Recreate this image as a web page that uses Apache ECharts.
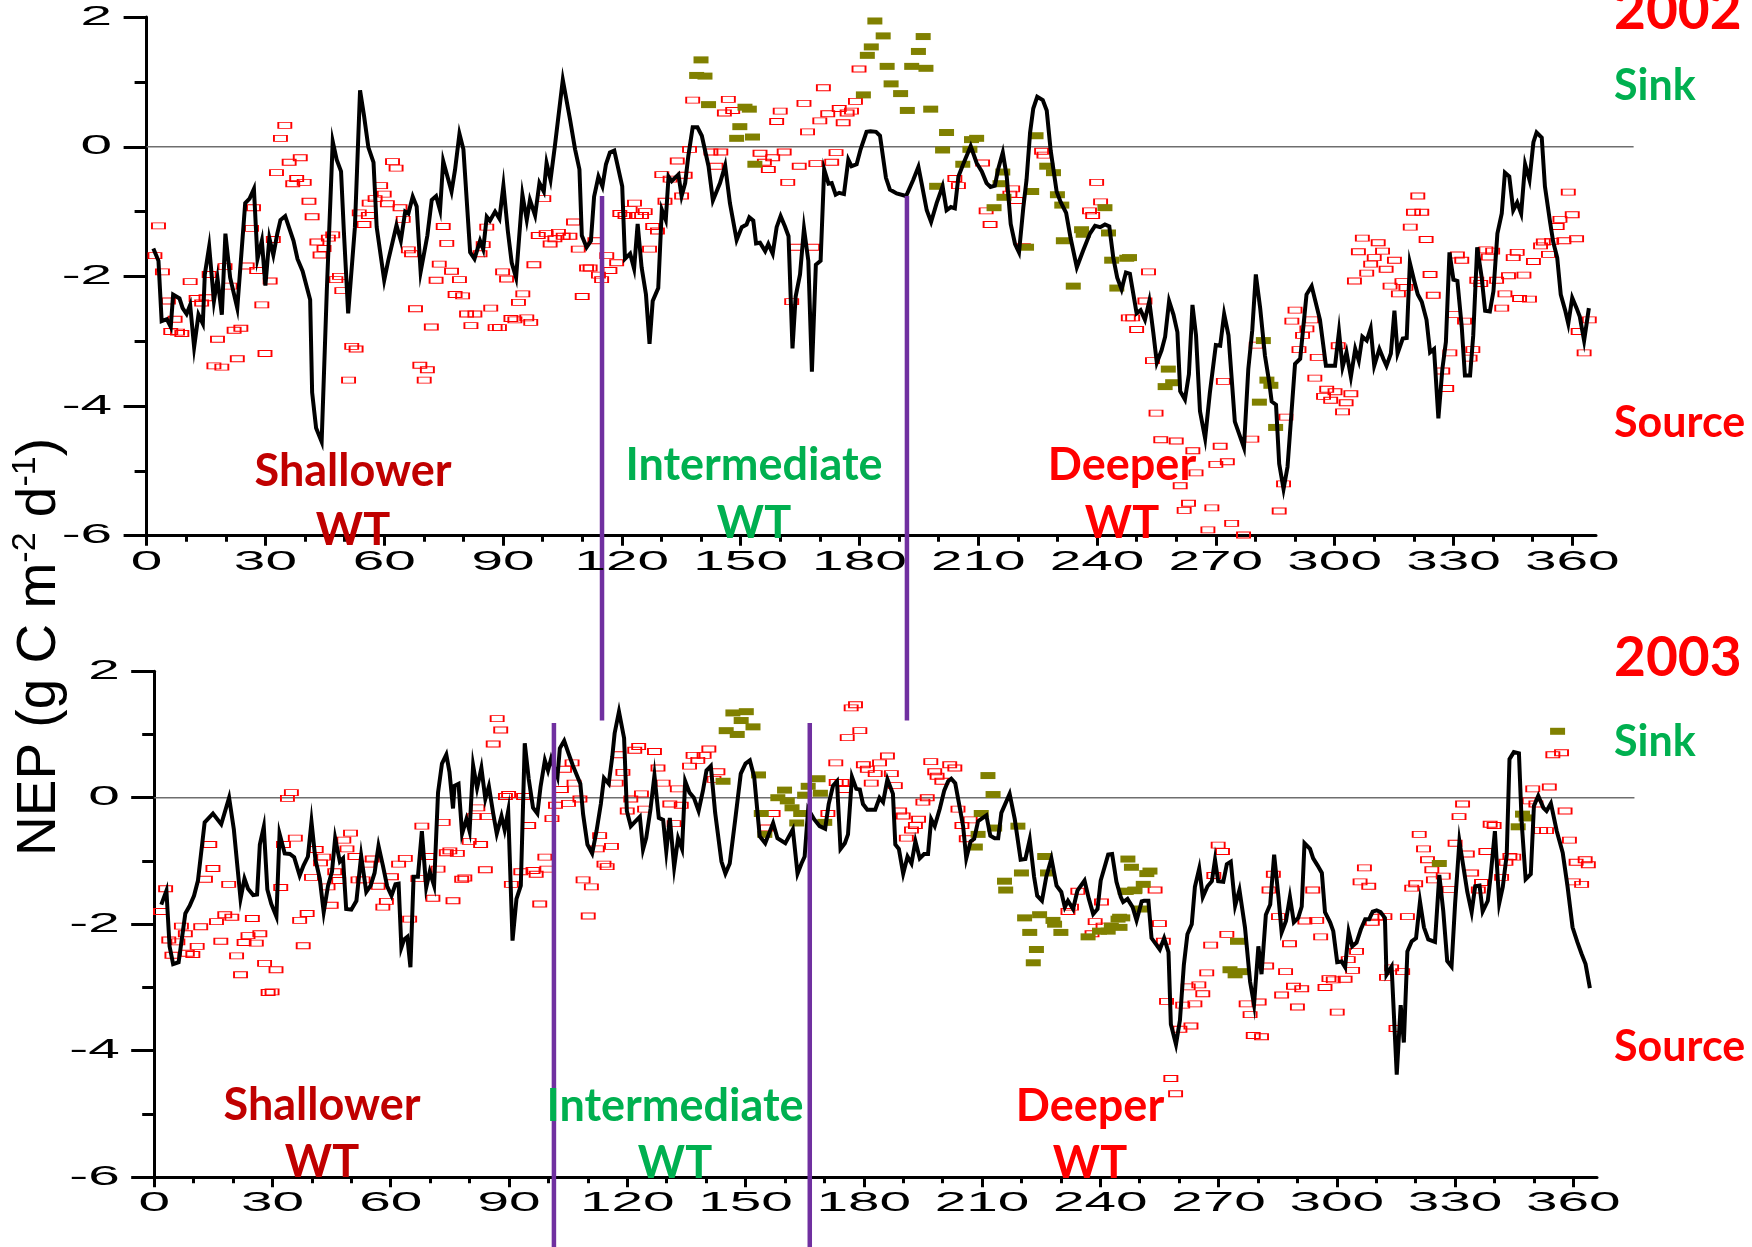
<!DOCTYPE html>
<html>
<head>
<meta charset="utf-8">
<title>NEP 2002 / 2003</title>
<script src="https://cdn.jsdelivr.net/npm/echarts@6/dist/echarts.min.js"></script>
<style>
  html, body { margin: 0; padding: 0; background: #ffffff; }
  #chart { width: 1752px; height: 1247px; }
</style>
</head>
<body>
<div id="chart"></div>
<script>
// ---- axis ticks ----
const dayTicks = [0, 30, 60, 90, 120, 150, 180, 210, 240, 270, 300, 330, 360];
const dayMinorTicks = [10, 20, 40, 50, 70, 80, 100, 110, 130, 140, 160, 170, 190, 200, 220, 230,
  250, 260, 280, 290, 310, 320, 340, 350];
const nepTicks = [2, 0, -2, -4, -6];

// ---- water-table period boundaries (day of year) ----
const wtBounds2002 = [115, 192];
const wtBounds2003 = [101.4, 166.3];

// ---- 2002: daily NEP line [day, g C m-2 d-1] ----
const lineNEP2002 = [
  [1.7,-1.57],[3.0,-1.76],[3.8,-2.69],[5.1,-2.66],[6.1,-2.78],[6.7,-2.28],[8.3,-2.34],[9.1,-2.49],[10.1,-2.58],[11.0,-2.44],
  [12.0,-3.09],[13.1,-2.59],[14.2,-2.73],[14.7,-1.97],[15.8,-1.54],[17.0,-2.38],[17.9,-2.03],[19.0,-2.59],[19.9,-1.34],[21.1,-2.02],
  [22.9,-2.49],[24.9,-0.87],[26.0,-0.80],[27.1,-0.65],[28.0,-1.73],[29.1,-1.45],[30.0,-2.14],[31.0,-1.41],[32.0,-1.67],[33.0,-1.34],
  [33.8,-1.13],[35.0,-1.07],[37.1,-1.45],[38.1,-1.73],[39.4,-1.92],[41.3,-2.36],[41.8,-3.79],[42.8,-4.34],[44.2,-4.55],[45.5,-2.23],
  [47.0,0.08],[48.0,-0.20],[49.1,-0.38],[49.8,-1.29],[50.9,-2.57],[52.6,-1.24],[53.9,0.87],[54.9,0.48],[56.0,-0.01],[57.3,-0.24],
  [58.1,-1.24],[60.0,-2.06],[61.0,-1.76],[63.1,-1.21],[64.2,-1.45],[65.3,-1.00],[66.1,-1.03],[67.2,-0.77],[68.2,-0.92],[69.2,-1.93],
  [70.9,-1.37],[72.0,-0.82],[73.1,-0.76],[74.1,-0.98],[74.9,-0.22],[77.0,-0.69],[77.9,-0.35],[79.0,0.20],[80.0,-0.04],[81.7,-1.63],
  [82.8,-1.73],[84.2,-1.45],[85.0,-1.58],[85.9,-1.08],[86.7,-1.14],[88.0,-1.00],[89.1,-1.11],[90.1,-0.60],[91.2,-1.29],[92.2,-1.79],
  [93.3,-2.02],[94.9,-0.74],[96.0,-1.13],[96.8,-0.82],[98.1,-1.06],[99.2,-0.56],[100.3,-0.69],[101.0,-0.25],[102.0,-0.51],[103.1,0.01],
  [105.1,1.03],[106.9,0.43],[108.2,-0.04],[109.3,-0.35],[109.9,-1.37],[111.1,-1.55],[112.2,-1.45],[113.0,-0.77],[114.1,-0.46],[115.1,-0.61],
  [116.0,-0.27],[117.0,-0.09],[118.1,-0.06],[120.1,-0.61],[120.8,-1.73],[122.1,-1.65],[123.1,-1.88],[124.0,-1.19],[125.0,-1.86],[126.1,-2.28],
  [127.0,-3.04],[127.8,-2.38],[129.2,-2.18],[130.1,-0.97],[131.1,-1.13],[131.8,-0.46],[132.6,-0.53],[133.4,-0.48],[134.3,-0.43],[135.1,-0.76],
  [136.0,-0.56],[136.8,-0.14],[137.9,0.30],[139.1,0.30],[140.2,0.17],[141.9,-0.30],[143.0,-0.83],[144.8,-0.56],[146.1,-0.29],[147.3,-0.87],
  [149.0,-1.44],[150.3,-1.24],[151.5,-1.20],[152.2,-1.09],[153.2,-1.14],[153.9,-1.49],[154.9,-1.48],[156.2,-1.61],[157.0,-1.50],[158.1,-1.65],
  [159.1,-1.24],[160.1,-1.07],[161.2,-1.23],[162.1,-1.38],[163.1,-3.11],[163.9,-2.31],[165.0,-1.97],[166.0,-1.26],[167.1,-1.76],[168.0,-3.47],
  [169.0,-1.82],[170.2,-1.76],[171.1,-0.35],[172.2,-0.57],[173.0,-0.56],[174.0,-0.74],[174.9,-0.71],[176.1,-0.73],[177.2,-0.20],[178.0,-0.30],
  [179.3,-0.27],[180.3,-0.04],[181.8,0.23],[182.8,0.24],[184.2,0.23],[185.2,0.17],[186.7,-0.48],[187.7,-0.66],[189.4,-0.72],[191.8,-0.76],
  [193.6,-0.51],[194.9,-0.31],[195.7,-0.56],[197.0,-0.98],[198.1,-1.16],[199.5,-0.87],[201.0,-0.61],[202.0,-0.98],[203.1,-0.93],[204.1,-0.95],
  [205.0,-0.46],[206.2,-0.27],[208.1,0.01],[209.6,-0.25],[210.9,-0.38],[212.1,-0.56],[213.1,-0.62],[214.2,-0.60],[215.1,-0.33],[216.2,-0.09],
  [217.2,-0.46],[218.2,-1.19],[219.3,-1.50],[220.3,-1.63],[221.4,-0.93],[222.2,-0.51],[223.1,0.22],[223.9,0.59],[224.9,0.77],[226.3,0.72],
  [227.3,0.56],[228.3,-0.06],[229.8,-0.69],[230.8,-0.85],[232.2,-1.02],[233.3,-1.40],[234.9,-1.86],[236.5,-1.60],[238.2,-1.34],[239.5,-1.22],
  [240.8,-1.24],[242.0,-1.20],[243.1,-1.23],[244.1,-1.71],[245.1,-2.02],[246.2,-2.20],[247.3,-1.94],[248.3,-1.96],[250.0,-2.57],[251.0,-2.52],
  [252.1,-2.67],[253.2,-2.38],[254.2,-2.86],[255.1,-3.33],[256.3,-3.14],[257.2,-2.93],[258.2,-2.38],[259.3,-2.59],[260.3,-2.86],[261.0,-3.77],
  [262.2,-3.90],[263.2,-3.51],[264.1,-2.44],[265.0,-2.91],[266.0,-4.08],[267.3,-4.50],[268.5,-3.79],[270.0,-3.06],[271.1,-3.07],[272.1,-2.58],
  [273.2,-2.91],[274.8,-4.24],[277.1,-4.64],[278.2,-3.43],[279.2,-2.83],[280.1,-1.97],[281.2,-2.49],[282.4,-3.22],[283.5,-3.64],[284.1,-3.93],
  [285.2,-3.98],[286.0,-4.89],[287.1,-5.28],[288.1,-4.94],[290.0,-3.35],[291.3,-3.27],[292.9,-2.28],[294.2,-2.15],[296.3,-2.67],[297.8,-3.38],
  [300.1,-3.38],[301.1,-2.85],[302.0,-3.40],[303.0,-3.17],[304.1,-3.55],[305.2,-3.12],[306.1,-3.30],[307.0,-2.93],[308.1,-2.99],[309.1,-2.80],
  [310.0,-3.38],[311.3,-3.12],[312.3,-3.27],[313.1,-3.38],[314.2,-3.19],[315.1,-2.53],[315.9,-3.19],[317.2,-2.96],[318.2,-2.95],[319.0,-1.79],
  [320.1,-2.07],[321.0,-2.28],[322.0,-2.39],[323.2,-2.67],[324.1,-3.17],[325.1,-3.12],[326.2,-4.19],[327.2,-3.43],[328.1,-3.01],[329.0,-1.63],
  [330.0,-2.05],[331.0,-2.07],[332.1,-2.78],[332.9,-3.53],[334.2,-3.53],[335.0,-2.91],[336.0,-1.55],[337.1,-2.00],[338.0,-2.53],[339.2,-2.54],
  [340.1,-2.23],[341.1,-1.34],[342.2,-1.03],[343.0,-0.40],[344.1,-0.46],[345.1,-0.98],[346.1,-0.86],[347.1,-1.03],[348.1,-0.27],[349.2,-0.51],
  [350.2,0.07],[351.0,0.22],[352.3,0.14],[353.1,-0.61],[354.4,-1.16],[355.2,-1.47],[356.2,-1.71],[357.1,-2.28],[358.2,-2.52],[359.0,-2.73],
  [360.0,-2.33],[361.1,-2.49],[361.9,-2.62],[363.0,-2.99],[364.2,-2.49]
];

// ---- 2002: open red markers ----
const openMarks2002 = [
  [3.0,-1.22],[2.1,-1.68],[4.0,-1.93],[5.5,-2.38],[6.1,-2.85],[7.2,-2.66],[7.8,-2.86],[8.9,-2.88],[11.0,-2.08],[12.5,-2.34],
  [13.9,-2.41],[15.0,-2.33],[15.8,-1.97],[17.9,-2.97],[17.0,-3.38],[19.0,-3.40],[19.8,-1.85],[21.1,-2.15],[22.1,-2.83],[23.8,-2.80],
  [22.9,-3.27],[25.4,-1.84],[26.5,-1.26],[27.0,-0.94],[27.8,-1.91],[29.1,-2.44],[29.9,-3.19],[31.2,-2.07],[32.0,-1.43],[32.8,-0.40],
  [33.8,0.13],[34.9,0.33],[36.0,-0.24],[37.9,-0.49],[36.9,-0.57],[38.8,-0.17],[39.8,-0.55],[41.0,-0.84],[41.8,-1.08],[43.0,-1.47],
  [43.8,-1.67],[44.8,-1.57],[45.9,-1.41],[47.0,-1.36],[47.8,-2.05],[48.7,-2.00],[49.3,-2.22],[51.8,-3.08],[52.9,-3.12],[51.0,-3.60],
  [53.7,-1.02],[54.9,-1.20],[56.0,-1.06],[56.2,-0.87],[57.7,-0.80],[59.1,-0.60],[60.0,-0.73],[60.8,-0.88],[62.1,-0.23],[63.0,-0.33],
  [64.0,-0.94],[64.8,-1.12],[66.1,-1.59],[66.9,-1.65],[67.9,-2.50],[69.0,-3.37],[70.9,-3.44],[70.1,-3.60],[71.9,-2.78],[73.1,-2.06],
  [73.9,-1.81],[74.9,-1.23],[75.8,-1.49],[77.0,-1.92],[77.9,-2.28],[79.0,-2.05],[79.8,-2.30],[80.8,-2.58],[81.9,-2.76],[82.9,-2.58],
  [84.2,-1.65],[85.9,-1.24],[85.0,-1.51],[86.9,-2.49],[88.0,-2.79],[89.1,-2.79],[89.9,-1.93],[90.9,-2.04],[92.0,-2.65],[93.0,-2.67],
  [93.9,-2.40],[95.0,-2.27],[96.0,-2.64],[97.0,-2.71],[97.8,-1.82],[98.9,-1.37],[100.3,-0.80],[100.9,-1.34],[101.9,-1.50],[103.1,-1.42],
  [104.0,-1.32],[105.2,-1.38],[106.9,-1.38],[107.8,-1.16],[109.0,-1.58],[110.0,-2.31],[111.1,-1.87],[112.0,-1.87],[113.2,-1.45],[114.1,-1.98],
  [114.9,-2.05],[116.2,-1.68],[117.0,-1.91],[118.7,-1.79],[119.5,-1.03],[120.8,-1.06],[122.1,-0.97],[123.2,-0.87],[123.7,-1.06],[125.9,-1.00],
  [125.0,-1.06],[127.8,-1.23],[129.0,-1.30],[127.0,-1.58],[130.9,-0.84],[130.1,-0.43],[132.2,-0.50],[134.0,-0.22],[135.1,-0.76],[136.0,-0.44],
  [137.1,-0.04],[137.9,0.72],[142.5,-0.08],[145.0,-0.08],[143.8,-0.30],[145.9,0.52],[146.9,0.73],[148.0,0.56],[154.9,-0.10],[156.0,-0.24],
  [157.0,-0.35],[158.1,-0.17],[159.1,0.39],[160.0,0.55],[161.0,-0.08],[161.9,-0.55],[164.0,-1.55],[162.9,-2.39],[164.8,-0.30],[166.0,0.67],
  [166.9,0.23],[168.2,-1.55],[169.0,-0.26],[170.0,0.40],[170.9,0.91],[172.0,0.51],[173.0,-0.24],[174.1,-0.09],[174.9,0.59],[175.9,0.37],
  [176.9,0.52],[178.0,0.55],[179.0,0.70],[179.9,1.20],[204.1,-0.49],[205.0,-0.60],[211.1,-0.25],[212.0,-0.99],[213.0,-1.20],[218.0,-0.73],
  [218.7,-0.65],[219.7,-0.83],[221.4,-1.54],[226.0,-0.07],[226.6,-0.13],[238.1,-0.99],[238.9,-1.06],[239.9,-0.55],[240.9,-0.85],[247.9,-2.64],
  [253.0,-1.93],[252.1,-2.38],[249.0,-2.64],[250.0,-2.82],[254.0,-3.30],[254.9,-4.11],[256.1,-4.52],[260.0,-4.54],[264.2,-4.69],[265.0,-5.03],
  [261.0,-5.23],[263.1,-5.50],[262.0,-5.61],[269.0,-5.57],[270.0,-4.90],[272.9,-4.86],[271.1,-4.62],[271.9,-3.62],[274.0,-5.81],[277.0,-5.99],
  [268.0,-5.91],[279.1,-4.51],[280.2,-3.06],[287.1,-5.20],[286.0,-5.62],[287.7,-4.17],[289.2,-2.69],[290.0,-2.52],[291.0,-3.13],[291.9,-2.91],
  [293.0,-2.81],[294.2,-2.67],[295.0,-3.57],[295.6,-3.25],[297.2,-3.85],[298.0,-3.74],[300.1,-3.78],[299.0,-3.91],[302.9,-3.95],[302.0,-4.09],
  [304.1,-3.81],[300.9,-3.07],[305.0,-2.07],[306.0,-1.62],[307.0,-1.41],[308.1,-1.95],[309.1,-1.81],[310.0,-1.71],[311.0,-1.48],[312.1,-1.61],
  [313.0,-1.89],[315.1,-1.75],[314.0,-2.15],[316.1,-2.27],[317.0,-2.08],[318.0,-2.17],[319.1,-1.24],[321.0,-0.76],[319.9,-1.01],[322.0,-1.01],
  [323.1,-1.43],[324.1,-1.97],[324.9,-2.29],[330.2,-2.59],[332.8,-2.69],[334.9,-3.13],[334.2,-3.26],[327.3,-3.46],[329.1,-3.18],[328.3,-3.73],
  [331.0,-1.67],[332.1,-1.75],[335.9,-2.06],[336.9,-2.11],[338.2,-1.59],[338.8,-1.70],[339.9,-1.61],[340.9,-2.06],[342.2,-2.49],[343.0,-2.27],
  [343.9,-1.99],[345.1,-1.71],[346.1,-1.63],[346.7,-2.34],[347.8,-1.98],[349.2,-2.35],[350.2,-1.77],[352.0,-1.53],[352.7,-1.47],[354.0,-1.66],
  [354.8,-1.46],[356.2,-1.23],[356.9,-1.12],[357.9,-1.45],[359.0,-0.70],[360.0,-1.05],[361.1,-1.42],[361.5,-2.85],[363.0,-3.18],[364.3,-2.67]
];

// ---- 2002: filled olive markers ----
const filledMarks2002 = [
  [140.0,1.34],[138.9,1.10],[141.0,1.09],[141.9,0.65],[151.1,0.61],[152.2,0.58],[149.8,0.31],[149.0,0.13],[153.0,0.15],[153.6,-0.27],
  [183.9,1.94],[186.0,1.71],[183.0,1.54],[182.0,1.41],[187.0,1.24],[181.0,0.80],[188.0,0.97],[190.4,0.82],[192.1,0.56],[193.2,1.24],
  [194.9,1.47],[196.1,1.70],[196.8,1.21],[198.0,0.58],[202.0,0.22],[201.0,-0.05],[199.5,-0.61],[209.6,0.13],[208.3,0.11],[207.9,-0.04],
  [206.1,-0.27],[216.2,-0.39],[215.5,-0.57],[216.5,-0.78],[214.0,-0.94],[223.5,-0.69],[222.2,-1.55],[224.6,0.17],[227.3,-0.30],[229.0,-0.40],
  [230.0,-0.74],[231.1,-0.90],[231.5,-1.45],[236.1,-1.28],[236.5,-1.35],[234.0,-2.15],[242.0,-0.94],[242.9,-1.33],[243.7,-1.75],[247.5,-1.72],
  [245.0,-2.18],[248.2,-1.71],[258.0,-3.43],[257.2,-3.70],[259.1,-3.64],[282.0,-2.99],[282.9,-3.60],[283.9,-3.68],[281.0,-3.94],[285.1,-4.33]
];

// ---- 2003: daily NEP line ----
const lineNEP2003 = [
  [1.8,-1.69],[3.1,-1.47],[3.9,-2.35],[4.8,-2.63],[6.2,-2.60],[7.9,-1.83],[9.0,-1.71],[10.1,-1.55],[11.1,-1.31],[12.8,-0.39],
  [14.9,-0.25],[17.0,-0.42],[19.0,0.00],[20.2,-0.50],[21.9,-1.60],[22.9,-1.28],[23.8,-1.44],[25.1,-1.54],[26.1,-1.53],[26.8,-0.74],
  [27.8,-0.46],[28.7,-1.45],[29.7,-1.68],[31.0,-1.88],[31.8,-0.57],[33.1,-0.88],[34.4,-0.89],[35.5,-0.94],[36.9,-1.23],[37.9,-1.07],
  [39.0,-0.93],[39.9,-0.38],[40.9,-0.98],[42.0,-1.28],[43.0,-1.81],[44.1,-1.39],[45.1,-1.17],[45.9,-0.64],[47.1,-1.01],[47.9,-0.96],
  [48.7,-1.76],[50.0,-1.77],[51.3,-1.63],[52.5,-0.92],[53.8,-1.49],[54.9,-1.39],[55.9,-1.19],[56.9,-0.76],[58.0,-1.07],[59.1,-1.40],
  [60.2,-1.55],[61.2,-1.37],[62.0,-1.36],[62.7,-2.37],[63.4,-2.24],[64.2,-2.20],[65.0,-2.68],[65.8,-1.25],[66.9,-1.25],[67.9,-0.53],
  [69.0,-1.42],[69.9,-1.17],[71.0,-1.39],[72.0,0.08],[73.0,0.54],[74.1,0.68],[74.9,0.41],[75.8,-0.17],[76.2,0.19],[77.2,0.22],
  [78.1,-0.57],[79.2,-0.34],[80.0,-0.53],[80.9,0.51],[81.9,0.15],[83.0,0.47],[84.0,-0.02],[84.9,0.18],[86.0,-0.25],[86.9,-0.57],
  [88.1,-0.29],[88.9,-0.51],[89.8,-0.21],[90.9,-2.26],[91.9,-1.60],[93.0,-1.39],[94.0,0.86],[95.0,0.30],[96.1,-0.16],[97.2,-0.25],
  [98.0,0.17],[99.1,0.59],[99.9,0.43],[100.7,0.62],[102.3,0.33],[102.9,0.78],[104.0,0.90],[105.1,0.70],[106.2,0.51],[108.1,0.22],
  [108.8,-0.26],[109.9,-0.74],[111.1,-0.88],[112.2,-0.53],[113.3,-0.10],[114.1,0.31],[115.3,0.22],[116.2,0.65],[116.8,1.02],[117.9,1.36],
  [119.2,0.94],[119.9,-0.21],[120.9,-0.45],[123.2,-0.30],[124.0,-0.82],[124.8,-0.64],[125.9,-0.18],[126.9,0.35],[128.0,-0.32],[129.1,-0.35],
  [129.9,-0.85],[130.8,-0.32],[131.9,-1.10],[132.9,-0.64],[133.9,-0.81],[134.7,0.26],[135.8,0.08],[136.9,0.00],[138.1,-0.21],[139.2,0.11],
  [140.1,0.43],[141.2,0.50],[142.3,-0.24],[143.9,-1.01],[144.9,-1.20],[146.0,-1.04],[147.4,-0.34],[148.8,0.38],[150.0,0.54],[151.1,0.59],
  [152.2,0.33],[153.6,-0.61],[155.0,-0.72],[156.0,-0.56],[157.0,-0.40],[158.1,-0.64],[160.1,-0.72],[162.0,-0.50],[163.2,-1.20],[164.2,-1.04],
  [165.0,-0.93],[165.9,-0.18],[167.4,-0.34],[168.8,-0.45],[170.2,-0.49],[171.1,-0.10],[172.2,0.19],[173.2,0.26],[174.1,-0.81],[175.2,-0.72],
  [176.0,-0.58],[177.0,0.33],[178.1,0.14],[179.0,0.13],[179.8,-0.10],[180.9,-0.19],[182.9,-0.19],[184.0,0.00],[184.9,-0.07],[186.0,0.29],
  [187.4,0.06],[188.0,-0.74],[188.9,-0.81],[190.0,-1.20],[191.1,-0.93],[192.1,-1.04],[193.1,-0.69],[194.2,-0.96],[195.3,-0.89],[196.3,-0.89],
  [197.1,-0.34],[198.0,-0.45],[199.3,-0.17],[200.4,0.11],[201.4,0.26],[202.2,0.30],[203.2,0.23],[204.3,-0.14],[205.2,-0.45],[206.0,-0.96],
  [207.1,-0.69],[208.0,-0.65],[209.0,-0.37],[211.1,-0.28],[212.1,-0.60],[213.2,-0.64],[214.1,-0.64],[214.9,-0.24],[217.0,0.06],[218.3,-0.34],
  [219.8,-0.98],[221.0,-0.97],[222.1,-0.66],[223.2,-1.25],[224.0,-1.55],[225.2,-1.63],[226.3,-1.25],[227.6,-0.96],[228.9,-1.39],[230.1,-1.49],
  [231.0,-1.73],[231.8,-1.63],[233.1,-1.76],[234.2,-1.47],[236.0,-1.31],[237.1,-1.60],[238.2,-1.84],[239.3,-1.76],[240.1,-1.31],[242.0,-0.90],
  [243.0,-0.89],[244.1,-1.33],[245.2,-1.57],[245.8,-1.65],[246.9,-1.60],[248.2,-1.73],[249.2,-1.94],[250.5,-1.64],[251.1,-1.63],[252.2,-1.63],
  [253.0,-2.22],[255.1,-2.40],[256.2,-2.22],[257.3,-2.44],[257.9,-3.58],[259.2,-3.90],[260.2,-3.52],[261.2,-2.64],[262.1,-2.16],[263.2,-2.00],
  [264.0,-1.41],[265.1,-1.12],[266.0,-1.57],[267.2,-1.40],[268.3,-1.32],[269.1,-0.98],[269.9,-1.32],[271.2,-1.33],[272.1,-1.05],[273.1,-1.01],
  [274.2,-1.71],[275.3,-1.46],[276.7,-2.05],[278.0,-2.91],[279.0,-3.27],[280.1,-2.35],[280.9,-2.79],[282.0,-1.85],[283.1,-1.69],[284.1,-0.90],
  [285.2,-1.57],[286.0,-2.13],[287.1,-1.95],[288.1,-1.57],[289.1,-1.97],[290.2,-1.90],[291.1,-1.72],[291.8,-0.72],[293.2,-0.81],[294.0,-0.96],
  [295.1,-1.07],[296.2,-1.19],[297.0,-1.81],[298.3,-1.97],[299.1,-2.11],[300.1,-2.60],[301.2,-2.59],[302.1,-2.68],[303.0,-2.12],[303.9,-2.35],
  [305.0,-2.29],[306.1,-2.08],[307.2,-1.92],[308.2,-1.92],[309.1,-1.80],[310.1,-1.78],[311.1,-1.81],[312.2,-1.90],[312.6,-2.80],[313.9,-2.67],
  [315.2,-4.38],[316.2,-3.28],[317.0,-3.87],[317.9,-2.43],[319.0,-2.27],[320.1,-2.22],[321.1,-1.64],[322.1,-2.05],[323.2,-2.24],[324.9,-2.28],
  [326.0,-1.22],[327.0,-1.79],[328.0,-2.58],[329.1,-2.67],[330.0,-1.68],[331.1,-0.69],[332.1,-1.09],[333.1,-1.49],[334.2,-1.81],[335.1,-1.40],
  [336.2,-1.39],[337.0,-1.80],[338.3,-1.63],[339.0,-1.25],[340.1,-0.53],[341.2,-1.67],[342.1,-1.41],[343.1,-0.90],[343.8,0.61],[344.9,0.72],
  [346.2,0.70],[346.9,-0.40],[347.9,-1.29],[349.2,-1.21],[350.0,-0.13],[351.1,0.03],[352.4,-0.16],[353.2,-0.21],[354.3,-0.09],[355.8,-0.53],
  [357.3,-0.87],[358.5,-1.39],[359.8,-2.05],[361.0,-2.28],[362.1,-2.47],[363.1,-2.63],[364.2,-3.01]
];

// ---- 2003: open red markers ----
const openMarks2003 = [
  [1.6,-1.80],[2.9,-1.44],[3.7,-2.25],[4.5,-2.49],[6.0,-2.28],[6.9,-2.03],[7.9,-2.15],[8.4,-2.46],[9.8,-2.48],[10.9,-2.35],
  [11.8,-2.04],[13.0,-1.29],[14.1,-0.74],[14.9,-1.12],[15.8,-1.96],[16.9,-2.27],[17.9,-1.85],[18.9,-1.37],[19.7,-1.89],[20.9,-2.50],
  [21.9,-2.80],[22.8,-2.29],[23.8,-2.18],[24.9,-1.91],[25.9,-2.30],[26.8,-2.15],[28.0,-2.62],[28.9,-3.08],[29.9,-3.07],[30.9,-2.72],
  [32.1,-1.42],[32.8,-0.74],[33.8,-0.01],[34.8,0.08],[35.8,-0.64],[36.9,-1.94],[37.8,-2.34],[38.8,-1.83],[39.9,-1.26],[41.1,-0.82],
  [42.2,-1.03],[43.0,-0.94],[44.1,-1.41],[44.9,-1.70],[45.8,-1.17],[46.8,-1.31],[48.1,-0.67],[48.9,-0.81],[49.8,-0.56],[50.9,-0.93],
  [51.7,-1.30],[53.0,-1.30],[54.2,-1.05],[55.3,-0.97],[56.8,-1.40],[58.0,-1.73],[58.9,-1.64],[60.2,-1.25],[62.0,-1.05],[63.7,-0.96],
  [64.8,-1.92],[66.9,-1.28],[67.9,-0.45],[69.5,-0.93],[70.7,-1.59],[72.0,-1.13],[73.3,-0.39],[74.1,-0.87],[75.0,-0.84],[76.9,-0.88],
  [75.8,-1.63],[78.0,-1.29],[78.8,-1.27],[79.9,-0.69],[81.1,-0.30],[82.1,-0.16],[82.8,-0.74],[84.0,-1.14],[84.5,-0.30],[86.0,0.85],
  [87.0,1.25],[87.9,1.07],[89.1,0.02],[89.9,0.05],[90.6,-1.37],[93.0,-1.17],[93.7,0.02],[95.0,-0.44],[96.1,-1.15],[96.9,-1.21],
  [97.8,-1.68],[99.1,-0.94],[99.6,-1.13],[100.9,-0.33],[101.8,-0.12],[103.3,0.13],[104.1,0.45],[105.1,-0.09],[106.0,0.55],[106.5,0.23],
  [108.0,-0.02],[108.8,-1.30],[110.1,-1.87],[110.9,-1.41],[112.4,-0.81],[113.0,-0.60],[114.1,-1.05],[114.9,-1.09],[116.0,-0.77],[117.2,0.23],
  [117.8,0.68],[118.9,0.40],[120.0,-0.21],[120.9,-0.02],[121.9,0.75],[122.9,0.81],[123.6,0.06],[124.4,-0.18],[126.9,0.73],[127.8,0.47],
  [129.1,0.23],[130.8,-0.10],[133.7,-0.12],[132.7,0.14],[131.9,-0.41],[135.8,0.50],[136.7,0.67],[137.9,0.59],[139.5,0.67],[140.7,0.77],
  [143.0,0.41],[142.0,0.29],[157.0,-0.25],[155.3,-0.48],[170.9,-0.25],[173.0,0.24],[174.5,0.24],[175.2,0.13],[172.9,0.55],[175.8,0.95],
  [177.9,1.47],[176.8,1.42],[179.0,1.06],[179.9,0.52],[180.9,0.45],[181.9,0.23],[182.9,0.38],[184.0,0.55],[186.0,0.66],[187.0,0.38],
  [188.0,0.19],[189.1,-0.21],[190.0,-0.29],[190.8,-0.64],[192.1,-0.51],[193.1,-0.44],[193.9,-0.34],[195.0,-0.07],[196.1,0.00],[197.0,0.57],
  [198.0,0.41],[198.6,0.34],[199.8,0.26],[201.8,0.52],[203.1,0.47],[203.9,-0.18],[204.9,-0.44],[207.0,-0.35],[206.0,-0.65],[231.8,-1.80],
  [232.7,-1.73],[234.3,-1.48],[240.3,-1.65],[238.7,-1.96],[237.9,-2.15],[240.7,-2.03],[253.9,-1.46],[255.0,-1.99],[256.0,-2.27],[256.8,-3.22],
  [260.2,-3.66],[260.9,-3.28],[263.0,-3.61],[264.0,-3.26],[265.0,-2.96],[266.0,-3.10],[262.3,-2.99],[267.0,-2.77],[268.0,-2.33],[268.8,-1.23],
  [269.9,-0.75],[271.0,-0.85],[272.1,-2.16],[257.9,-4.44],[259.1,-4.68],[277.0,-3.26],[278.0,-3.43],[280.3,-3.23],[278.8,-3.76],[280.9,-3.78],
  [282.2,-2.66],[282.8,-1.46],[283.9,-1.21],[285.2,-1.88],[286.0,-3.12],[287.0,-2.75],[288.0,-2.31],[289.0,-2.98],[290.0,-3.31],[291.1,-3.02],
  [291.9,-1.95],[293.9,-1.46],[294.9,-1.94],[295.9,-2.20],[297.0,-3.00],[298.0,-2.86],[299.1,-2.88],[300.1,-3.39],[302.1,-2.87],[302.9,-2.56],
  [304.0,-2.73],[305.0,-2.43],[305.9,-1.33],[307.0,-1.11],[308.1,-1.40],[309.0,-1.97],[310.1,-1.89],[312.2,-1.88],[312.6,-2.84],[313.9,-2.69],
  [315.0,-3.65],[316.7,-2.75],[317.9,-1.88],[319.0,-1.43],[320.0,-1.36],[320.9,-0.58],[322.0,-0.81],[323.0,-0.98],[324.1,-1.14],[324.5,-1.30],
  [327.0,-1.24],[328.5,-1.45],[330.0,-0.72],[331.0,-0.30],[331.9,-0.10],[333.1,-0.89],[334.2,-1.19],[335.9,-1.46],[336.7,-1.34],[337.8,-0.85],
  [338.9,-0.42],[339.9,-0.44],[341.8,-1.26],[342.9,-1.02],[343.9,-0.93],[344.9,-0.94],[349.7,0.14],[348.8,-0.05],[350.5,-0.10],[351.7,-0.52],
  [353.2,-0.52],[353.9,0.17],[354.8,0.68],[357.0,0.71],[357.9,-0.21],[359.0,-0.67],[360.7,-1.02],[363.0,-0.98],[363.8,-1.06],[360.0,-1.33],
  [362.1,-1.37]
];

// ---- 2003: filled olive markers ----
const filledMarks2003 = [
  [146.8,1.34],[150.2,1.36],[148.9,1.22],[145.1,1.06],[147.9,1.00],[151.9,1.12],[153.3,0.36],[144.3,0.26],[159.9,0.12],[158.2,0.00],
  [160.6,-0.05],[161.8,-0.16],[164.0,-0.25],[163.0,-0.40],[154.0,-0.25],[154.9,-0.58],[168.4,0.30],[165.9,0.18],[165.0,0.04],[169.0,0.07],
  [170.1,-0.39],[211.5,0.35],[212.8,0.05],[209.8,-0.25],[213.2,-0.48],[219.1,-0.45],[209.0,-0.58],[208.3,-0.78],[215.7,-1.32],[216.0,-1.46],
  [220.0,-1.19],[225.9,-0.93],[226.6,-1.19],[220.8,-1.90],[224.6,-1.85],[228.0,-1.94],[228.4,-2.00],[230.0,-2.13],[222.1,-2.13],[223.8,-2.40],
  [223.0,-2.61],[236.9,-2.20],[239.8,-2.11],[242.0,-2.11],[242.8,-2.03],[244.5,-1.92],[244.9,-1.89],[247.0,-0.97],[247.9,-1.10],[246.6,-1.48],
  [248.7,-1.47],[252.6,-1.16],[251.8,-1.20],[250.9,-1.37],[248.8,-1.46],[246.3,-1.48],[250.2,-1.76],[245.7,-1.90],[245.0,-2.05],[274.8,-2.27],
  [272.9,-2.72],[274.2,-2.80],[275.9,-2.75],[326.0,-1.04],[347.1,-0.26],[348.0,-0.32],[346.0,-0.46],[356.0,1.05]
];

// ---- layout ----
const DAY_MAX = 366;      // end of the x axis line
const ZERO_END = 375.5;   // the zero reference line runs a little past the axis
const panelGrids = [
  { left: 146.6, top: 17.1, width: 1449.4, height: 518.6 },
  { left: 154.2, top: 671.2, width: 1442.8, height: 506 }
];
const panels = [
  { line: lineNEP2002, open: openMarks2002, filled: filledMarks2002 },
  { line: lineNEP2003, open: openMarks2003, filled: filledMarks2003 }
];

const AXIS_BLACK = '#000000';
const grids = [];
const xAxes = [];
const yAxes = [];
const series = [];

panelGrids.forEach(function (g) { grids.push(Object.assign({}, g)); });
panelGrids.forEach(function (g) {
  grids.push({ left: g.left, top: g.top, height: g.height, width: g.width * ZERO_END / DAY_MAX });
});

panelGrids.forEach(function (g, p) {
  // major day axis
  xAxes.push({
    type: 'value', gridIndex: p, position: 'bottom', min: 0, max: DAY_MAX,
    axisLine: { show: true, onZero: false, lineStyle: { color: AXIS_BLACK, width: 3 } },
    axisTick: { show: true, customValues: dayTicks, length: 10, lineStyle: { color: AXIS_BLACK, width: 3 } },
    axisLabel: { show: false },
    splitLine: { show: false }
  });
  // minor day ticks, on the same bottom line
  xAxes.push({
    type: 'value', gridIndex: p, position: 'bottom', offset: 0, min: 0, max: DAY_MAX,
    axisLine: { show: false, onZero: false },
    axisTick: { show: true, customValues: dayMinorTicks, length: 6, lineStyle: { color: AXIS_BLACK, width: 3 } },
    axisLabel: { show: false },
    splitLine: { show: false }
  });
  yAxes.push({
    type: 'value', gridIndex: p, position: 'left', min: -6, max: 2, interval: 2,
    axisLine: { show: true, onZero: false, lineStyle: { color: AXIS_BLACK, width: 3 } },
    axisTick: { show: true, length: 23, lineStyle: { color: AXIS_BLACK, width: 3 } },
    minorTick: { show: true, splitNumber: 2, length: 12, lineStyle: { color: AXIS_BLACK, width: 3 } },
    axisLabel: { show: false },
    splitLine: { show: false },
    minorSplitLine: { show: false }
  });
});
panelGrids.forEach(function (g, p) {
  xAxes.push({ type: 'value', gridIndex: 2 + p, min: 0, max: ZERO_END, show: false });
  yAxes.push({ type: 'value', gridIndex: 2 + p, min: -6, max: 2, show: false });
});

panels.forEach(function (pd, p) {
  series.push({
    type: 'line', xAxisIndex: 4 + p, yAxisIndex: 2 + p, z: 1,
    data: [[0, 0], [ZERO_END, 0]], showSymbol: false, silent: true,
    lineStyle: { color: '#6e6e6e', width: 1.5 }
  });
  series.push({
    type: 'scatter', xAxisIndex: 2 * p, yAxisIndex: p, z: 2,
    data: pd.open, symbol: 'rect', symbolSize: [13, 6], silent: true,
    itemStyle: { color: 'rgba(255,255,255,0)', borderColor: '#ff0000', borderWidth: 1.3, opacity: 1 }
  });
  series.push({
    type: 'scatter', xAxisIndex: 2 * p, yAxisIndex: p, z: 2,
    data: pd.filled, symbol: 'rect', symbolSize: [15, 7], silent: true,
    itemStyle: { color: '#808000', opacity: 1 }
  });
  series.push({
    type: 'line', xAxisIndex: 2 * p, yAxisIndex: p, z: 3,
    data: pd.line, showSymbol: false, silent: true,
    lineStyle: { color: '#000000', width: 4, join: 'miter' }
  });
});

const chart = echarts.init(document.getElementById('chart'), null, { renderer: 'canvas', width: 1752, height: 1247 });
chart.setOption({
  animation: false,
  backgroundColor: '#ffffff',
  grid: grids,
  xAxis: xAxes,
  yAxis: yAxes,
  series: series
});

// ---- text and annotation overlay ----
function txt(x, y, text, font, color, align, extra) {
  const el = {
    type: 'text', x: x, y: y, z: 100, silent: true,
    style: {
      text: text, font: font, fill: color,
      align: align || 'center', textAlign: align || 'center',
      verticalAlign: 'middle', textVerticalAlign: 'middle'
    }
  };
  return Object.assign(el, extra || {});
}

const graphics = [];
const TICK_FONT = '27px "Liberation Sans", Arial, sans-serif';
const TICK_STRETCH = 2.1;
const BOLD = 'bold 45px Lato, "Open Sans", sans-serif';

panelGrids.forEach(function (g, p) {
  const axisX = chart.convertToPixel({ xAxisIndex: 2 * p }, 0);
  const axisY = chart.convertToPixel({ yAxisIndex: p }, -6);
  dayTicks.forEach(function (d) {
    const px = chart.convertToPixel({ xAxisIndex: 2 * p }, d);
    graphics.push(txt(px, axisY + 26.5, String(d), TICK_FONT, '#000', 'center', { scaleX: TICK_STRETCH }));
  });
  nepTicks.forEach(function (v) {
    const py = chart.convertToPixel({ yAxisIndex: p }, v);
    graphics.push(txt(axisX - 34.5, py, String(v), TICK_FONT, '#000', 'right', { scaleX: TICK_STRETCH }));
  });
});

// water-table period boundaries
wtBounds2002.forEach(function (d) {
  const x = chart.convertToPixel({ xAxisIndex: 0 }, d);
  const y1 = chart.convertToPixel({ yAxisIndex: 0 }, -0.76);
  const y2 = chart.convertToPixel({ yAxisIndex: 1 }, 1.22);
  graphics.push({ type: 'line', z: 90, silent: true, shape: { x1: x, y1: y1, x2: x, y2: y2 },
    style: { stroke: '#7030a0', lineWidth: 4.5 } });
});
wtBounds2003.forEach(function (d) {
  const x = chart.convertToPixel({ xAxisIndex: 2 }, d);
  const y1 = chart.convertToPixel({ yAxisIndex: 1 }, 1.18);
  graphics.push({ type: 'line', z: 90, silent: true, shape: { x1: x, y1: y1, x2: x, y2: 1247 },
    style: { stroke: '#7030a0', lineWidth: 4.5 } });
});

// period names
graphics.push(txt(353, 471, 'Shallower', BOLD, '#c00000'));
graphics.push(txt(353, 530, 'WT', BOLD, '#c00000'));
graphics.push(txt(754, 465, 'Intermediate', BOLD, '#00b050'));
graphics.push(txt(754, 523, 'WT', BOLD, '#00b050'));
graphics.push(txt(1122, 465, 'Deeper', BOLD, '#ff0000'));
graphics.push(txt(1122, 523, 'WT', BOLD, '#ff0000'));

graphics.push(txt(322, 1105, 'Shallower', BOLD, '#c00000'));
graphics.push(txt(322, 1162, 'WT', BOLD, '#c00000'));
graphics.push(txt(675, 1106, 'Intermediate', BOLD, '#00b050'));
graphics.push(txt(675, 1163, 'WT', BOLD, '#00b050'));
graphics.push(txt(1090, 1106, 'Deeper', BOLD, '#ff0000'));
graphics.push(txt(1090, 1163, 'WT', BOLD, '#ff0000'));

// year and sink / source notes
const YEAR_FONT = 'bold 55px Lato, "Open Sans", sans-serif';
const NOTE_FONT = 'bold 43px Lato, "Open Sans", sans-serif';
graphics.push(txt(1614, 11, '2002', YEAR_FONT, '#ff0000', 'left'));
graphics.push(txt(1614, 86.5, 'Sink', NOTE_FONT, '#00b050', 'left'));
graphics.push(txt(1614, 423.5, 'Source', NOTE_FONT, '#ff0000', 'left'));
graphics.push(txt(1614, 658, '2003', YEAR_FONT, '#ff0000', 'left'));
graphics.push(txt(1614, 742.5, 'Sink', NOTE_FONT, '#00b050', 'left'));
graphics.push(txt(1614, 1047, 'Source', NOTE_FONT, '#ff0000', 'left'));

// shared y-axis title
graphics.push({
  type: 'text', x: 40, y: 647, rotation: Math.PI / 2, z: 100, silent: true,
  style: {
    text: '{a|NEP (g C m}{s|-2}{a| d}{s|-1}{a|)}',
    align: 'center', textAlign: 'center', verticalAlign: 'middle', textVerticalAlign: 'middle',
    fill: '#000',
    rich: {
      a: { font: '55px "Liberation Sans", Arial, sans-serif', fill: '#000', lineHeight: 62 },
      s: { font: '34px "Liberation Sans", Arial, sans-serif', fill: '#000', lineHeight: 34, verticalAlign: 'top' }
    }
  }
});

chart.setOption({ graphic: { elements: graphics } });
</script>
</body>
</html>
